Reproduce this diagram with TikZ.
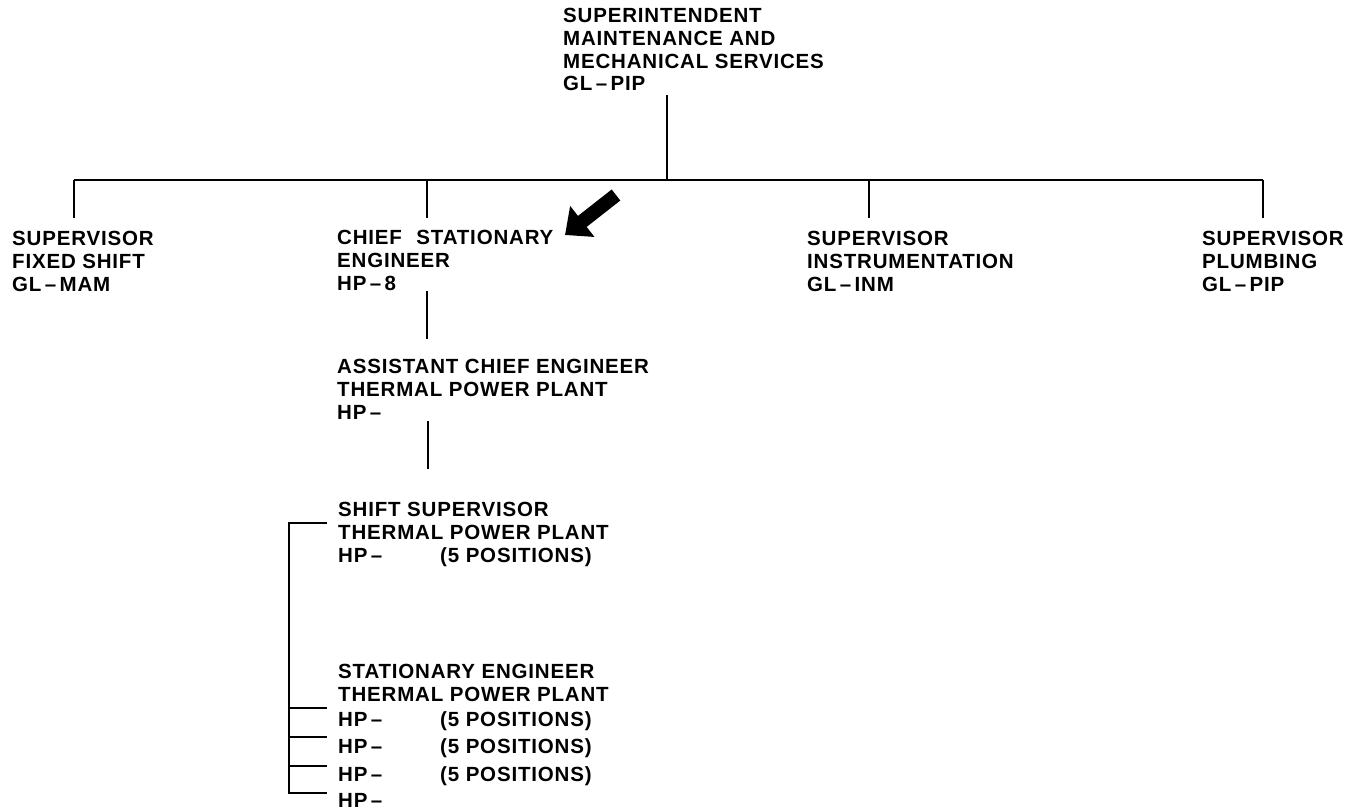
\documentclass[tikz,border=0pt]{standalone}
\usepackage{fontspec}
\usetikzlibrary{arrows.meta}
\newfontfamily\orgfont{Liberation Sans}[LetterSpace=4]
\newcommand{\dsh}{\,\textendash\,}
\begin{document}
\begin{tikzpicture}[x=1pt,y=-1pt,
  lbl/.style={anchor=north west,inner sep=0pt,align=left,
    font=\orgfont\bfseries\fontsize{20.5}{22.8}\selectfont},
  wire/.style={line width=2pt},
  pointer/.style={line width=14pt,-{Triangle[length=22pt,width=38pt]}}]
\useasboundingbox (0,0) rectangle (1350,811);
% nodes
\node[lbl] (sup) at (563,8) {SUPERINTENDENT\\MAINTENANCE AND\\MECHANICAL SERVICES\\GL\dsh PIP};
\node[lbl] (fixed) at (12,231) {SUPERVISOR\\FIXED SHIFT\\GL\dsh MAM};
\node[lbl] (chief) at (337,230) {CHIEF\hspace{8pt} STATIONARY\\ENGINEER\\HP\dsh 8};
\node[lbl] (instr) at (807,231) {SUPERVISOR\\INSTRUMENTATION\\GL\dsh INM};
\node[lbl] (plumb) at (1202,231) {SUPERVISOR\\PLUMBING\\GL\dsh PIP};
\node[lbl] (asst) at (337,359) {ASSISTANT CHIEF ENGINEER\\THERMAL POWER PLANT\\HP\dsh};
\node[lbl] (shift) at (338,502) {SHIFT SUPERVISOR\\THERMAL POWER PLANT\\\makebox[102pt][l]{HP\dsh}(5 POSITIONS)};
\node[lbl] (stat) at (338,664) {STATIONARY ENGINEER\\THERMAL POWER PLANT\\[2pt]
  \makebox[102pt][l]{HP\dsh}(5 POSITIONS)\\[5pt]
  \makebox[102pt][l]{HP\dsh}(5 POSITIONS)\\[4.5pt]
  \makebox[102pt][l]{HP\dsh}(5 POSITIONS)\\[3.5pt]
  HP\dsh};
% connector coordinates
\coordinate (supB) at (667,95);
\coordinate (busC) at (667,180);
\coordinate (busL) at (74,180);
\coordinate (busR) at (1263,180);
\coordinate (d2) at (427,180);
\coordinate (d3) at (869,180);
\coordinate (fixedT) at (74,218);
\coordinate (chiefT) at (427,218);
\coordinate (instrT) at (869,218);
\coordinate (plumbT) at (1263,218);
\coordinate (chiefB) at (427,291);
\coordinate (asstT) at (427,339);
\coordinate (asstB) at (428,421);
\coordinate (shiftT) at (428,469);
\coordinate (shiftL) at (327,523);
\coordinate (brT) at (289,523);
\coordinate (brB) at (289,793);
\coordinate (hp1) at (327,708);
\coordinate (hp2) at (327,737);
\coordinate (hp3) at (327,766);
\coordinate (hp4) at (327,793);
\coordinate (arrS) at (616,195);
\coordinate (arrE) at (565,235);
% connectors
\draw[wire] (supB) -- (busC);
\draw[wire] (busL) -- (busR);
\draw[wire] (busL) -- (fixedT);
\draw[wire] (d2) -- (chiefT);
\draw[wire] (d3) -- (instrT);
\draw[wire] (busR) -- (plumbT);
\draw[wire] (chiefB) -- (asstT);
\draw[wire] (asstB) -- (shiftT);
\draw[wire] (shiftL) -- (brT) -- (brB) -- (hp4);
\draw[wire] (hp1 -| brT) -- (hp1);
\draw[wire] (hp2 -| brT) -- (hp2);
\draw[wire] (hp3 -| brT) -- (hp3);
\draw[pointer] (arrS) -- (arrE);
\end{tikzpicture}
\end{document}
